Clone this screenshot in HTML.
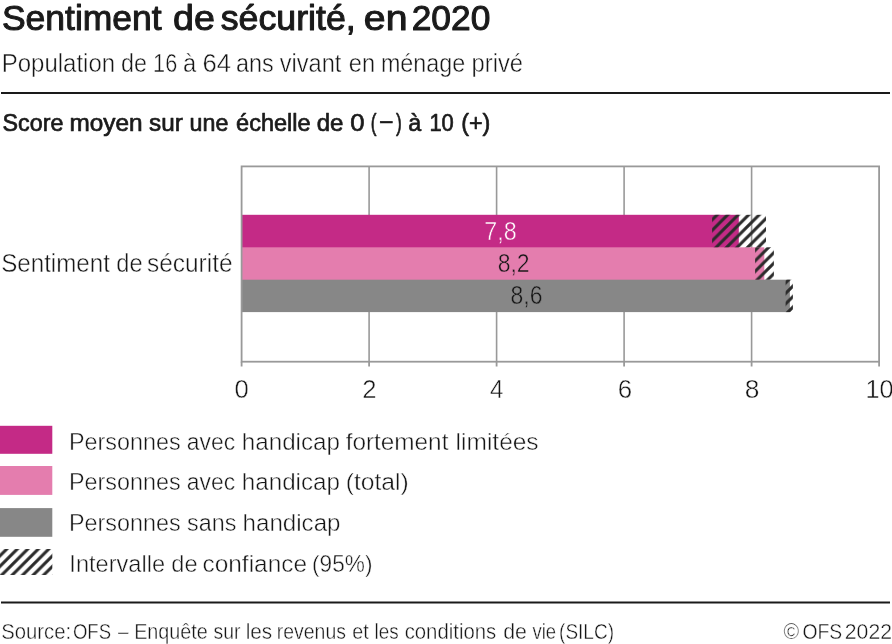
<!DOCTYPE html>
<html lang="fr">
<head>
<meta charset="utf-8">
<title>Sentiment de sécurité, en 2020</title>
<style>
html,body{margin:0;padding:0;background:#fff;}
body{width:892px;height:644px;overflow:hidden;position:relative;}
svg{position:absolute;left:0;top:0;display:block;}
text{font-family:"Liberation Sans",Arial,sans-serif;}
.b{fill:#1a1a1a;stroke:#1a1a1a;stroke-width:1px;stroke-linejoin:round;}
.b2{fill:#1a1a1a;stroke:#1a1a1a;stroke-width:0.7px;stroke-linejoin:round;}
.l{fill:#161616;stroke:#fff;stroke-width:0.45px;}
.lf{fill:#161616;stroke:#fff;stroke-width:0.4px;}
.v1{fill:#fff;stroke:#c42a86;stroke-width:0.5px;}
.v2{fill:#161616;stroke:#e47dae;stroke-width:0.5px;}
.v3{fill:#161616;stroke:#878787;stroke-width:0.5px;}
</style>
</head>
<body>
<svg width="892" height="644" viewBox="0 0 892 644">
<defs>
<pattern id="h" patternUnits="userSpaceOnUse" width="10.5" height="10.5" patternTransform="translate(2.5 5.5)">
<path d="M-3 13.5L13.5 -3M-3 3L3 -3M8.4 12.6L12.6 8.4" stroke="#2b2b2b" stroke-width="3.1" fill="none"/>
</pattern>
<pattern id="h2" patternUnits="userSpaceOnUse" width="10.5" height="10.5" patternTransform="translate(4.3 5.5)">
<path d="M-3 13.5L13.5 -3M-3 3L3 -3M8.4 12.6L12.6 8.4" stroke="#2b2b2b" stroke-width="3.1" fill="none"/>
</pattern>
</defs>
<rect width="892" height="644" fill="#fff"/>

<!-- header -->
<g id="t1">
<text class="b" x="1.9" y="30.25" font-size="34.3" textLength="159.83" lengthAdjust="spacingAndGlyphs">Sentiment</text>
<text class="b" x="173.12" y="30.25" font-size="34.3" textLength="41.85" lengthAdjust="spacingAndGlyphs">de</text>
<text class="b" x="220.74" y="30.25" font-size="34.3" textLength="134.99" lengthAdjust="spacingAndGlyphs">sécurité,</text>
<text class="b" x="363.85" y="30.25" font-size="34.3" textLength="43.67" lengthAdjust="spacingAndGlyphs">en</text>
<text class="b" x="411.73" y="30.25" font-size="34.3" textLength="78.63" lengthAdjust="spacingAndGlyphs">2020</text>
</g>
<g id="t2">
<text class="l" x="1.78" y="71.65" font-size="25.5" textLength="113.3" lengthAdjust="spacingAndGlyphs">Population</text>
<text class="l" x="121.07" y="71.65" font-size="25.5" textLength="25.91" lengthAdjust="spacingAndGlyphs">de</text>
<text class="l" x="153.1" y="71.65" font-size="25.5" textLength="24.08" lengthAdjust="spacingAndGlyphs">16</text>
<text class="l" x="183.06" y="71.65" font-size="25.5" textLength="13.17" lengthAdjust="spacingAndGlyphs">à</text>
<text class="l" x="202.47" y="71.65" font-size="25.5" textLength="28.53" lengthAdjust="spacingAndGlyphs">64</text>
<text class="l" x="236.07" y="71.65" font-size="25.5" textLength="37.73" lengthAdjust="spacingAndGlyphs">ans</text>
<text class="l" x="279.68" y="71.65" font-size="25.5" textLength="61.74" lengthAdjust="spacingAndGlyphs">vivant</text>
<text class="l" x="348.76" y="71.65" font-size="25.5" textLength="26.32" lengthAdjust="spacingAndGlyphs">en</text>
<text class="l" x="380.91" y="71.65" font-size="25.5" textLength="84.36" lengthAdjust="spacingAndGlyphs">ménage</text>
<text class="l" x="471.53" y="71.65" font-size="25.5" textLength="51.48" lengthAdjust="spacingAndGlyphs">privé</text>
</g>
<rect x="1" y="92" width="889" height="2" fill="#1a1a1a"/>
<g id="t3">
<text class="b2" x="2.6" y="130.6" font-size="24.6" textLength="60.78" lengthAdjust="spacingAndGlyphs">Score</text>
<text class="b2" x="69.44" y="130.6" font-size="24.6" textLength="73.08" lengthAdjust="spacingAndGlyphs">moyen</text>
<text class="b2" x="148.99" y="130.6" font-size="24.6" textLength="33.75" lengthAdjust="spacingAndGlyphs">sur</text>
<text class="b2" x="189.56" y="130.6" font-size="24.6" textLength="38.82" lengthAdjust="spacingAndGlyphs">une</text>
<text class="b2" x="236.06" y="130.6" font-size="24.6" textLength="74.62" lengthAdjust="spacingAndGlyphs">échelle</text>
<text class="b2" x="316.64" y="130.6" font-size="24.6" textLength="26.78" lengthAdjust="spacingAndGlyphs">de</text>
<text class="b2" x="350.35" y="130.6" font-size="24.6" textLength="14.28" lengthAdjust="spacingAndGlyphs">0</text>
<text class="b2" x="370.78" y="130.6" font-size="24.6" textLength="5.76" lengthAdjust="spacingAndGlyphs">(</text>
<text class="b2" x="395.96" y="130.6" font-size="24.6" textLength="5.76" lengthAdjust="spacingAndGlyphs">)</text>
<text class="b2" x="408.37" y="130.6" font-size="24.6" textLength="12.96" lengthAdjust="spacingAndGlyphs">à</text>
<text class="b2" x="429.38" y="130.6" font-size="24.6" textLength="24.41" lengthAdjust="spacingAndGlyphs">10</text>
<text class="b2" x="461.2" y="130.6" font-size="24.6" textLength="29.2" lengthAdjust="spacingAndGlyphs">(+)</text>
<text class="b2" x="380.35" y="128.4" font-size="24.6" textLength="12.1" lengthAdjust="spacingAndGlyphs">–</text>
</g>

<!-- chart -->
<g stroke="#999" stroke-width="1.6" fill="none">
<path d="M369.1 166.4V361.7M496.6 166.4V361.7M624.1 166.4V361.7M751.6 166.4V361.7"/>
</g>
<rect x="241.6" y="214.8" width="497.2" height="33.5" fill="#c42a86"/>
<rect x="241.6" y="247.3" width="522.7" height="33.4" fill="#e47dae"/>
<rect x="241.6" y="279.7" width="548.3" height="32.4" fill="#878787"/>
<rect x="712.1" y="214.8" width="53.9" height="32.5" fill="url(#h)"/>
<rect x="755.1" y="247.3" width="18.8" height="32.4" fill="url(#h)"/>
<rect x="785.6" y="279.7" width="7.3" height="32.4" fill="url(#h)"/>
<g stroke="#999" stroke-width="1.8" fill="none">
<rect x="241.6" y="166.4" width="637.5" height="195.3"/>
<path d="M241.6 361.7V366.5M369.1 361.7V366.5M496.6 361.7V366.5M624.1 361.7V366.5M751.6 361.7V366.5M879.1 361.7V366.5"/>
</g>
<g id="yl">
<text class="l" x="1.16" y="272.2" font-size="25.8" textLength="108.74" lengthAdjust="spacingAndGlyphs">Sentiment</text>
<text class="l" x="116.26" y="272.2" font-size="25.8" textLength="26.29" lengthAdjust="spacingAndGlyphs">de</text>
<text class="l" x="147.09" y="272.2" font-size="25.8" textLength="85.44" lengthAdjust="spacingAndGlyphs">sécurité</text>
</g>
<text class="l" x="234.55" y="398.4" font-size="26.1" textLength="14.28" lengthAdjust="spacingAndGlyphs">0</text>
<text class="l" x="362.27" y="398.4" font-size="26.1" textLength="14.27" lengthAdjust="spacingAndGlyphs">2</text>
<text class="l" x="490.02" y="398.4" font-size="26.1" textLength="13.44" lengthAdjust="spacingAndGlyphs">4</text>
<text class="l" x="617.65" y="398.4" font-size="26.1" textLength="14.41" lengthAdjust="spacingAndGlyphs">6</text>
<text class="l" x="744.72" y="398.4" font-size="26.1" textLength="14.67" lengthAdjust="spacingAndGlyphs">8</text>
<text class="l" x="865.53" y="398.4" font-size="26.1" textLength="28.09" lengthAdjust="spacingAndGlyphs">10</text>
<text class="v1" x="484.36" y="239.75" font-size="25.4" textLength="32.39" lengthAdjust="spacingAndGlyphs">7,8</text>
<text class="v2" x="497.66" y="271.95" font-size="25.4" textLength="31.94" lengthAdjust="spacingAndGlyphs">8,2</text>
<text class="v3" x="510.56" y="304.35" font-size="25.4" textLength="31.93" lengthAdjust="spacingAndGlyphs">8,6</text>

<!-- legend -->
<rect x="0" y="425.8" width="52.3" height="28" fill="#c42a86"/>
<rect x="0" y="466" width="52.3" height="28.9" fill="#e47dae"/>
<rect x="0" y="508.1" width="52.3" height="28.7" fill="#878787"/>
<rect x="0" y="549" width="52.3" height="26" fill="url(#h2)"/>
<g id="l1">
<text class="l" x="68.93" y="449.7" font-size="24.5" textLength="111.65" lengthAdjust="spacingAndGlyphs">Personnes</text>
<text class="l" x="186.79" y="449.7" font-size="24.5" textLength="48.31" lengthAdjust="spacingAndGlyphs">avec</text>
<text class="l" x="241.83" y="449.7" font-size="24.5" textLength="98.16" lengthAdjust="spacingAndGlyphs">handicap</text>
<text class="l" x="345.66" y="449.7" font-size="24.5" textLength="102.76" lengthAdjust="spacingAndGlyphs">fortement</text>
<text class="l" x="455.61" y="449.7" font-size="24.5" textLength="83.01" lengthAdjust="spacingAndGlyphs">limitées</text>
</g>
<g id="l2">
<text class="l" x="68.93" y="490.1" font-size="24.5" textLength="111.65" lengthAdjust="spacingAndGlyphs">Personnes</text>
<text class="l" x="186.79" y="490.1" font-size="24.5" textLength="48.31" lengthAdjust="spacingAndGlyphs">avec</text>
<text class="l" x="241.83" y="490.1" font-size="24.5" textLength="98.16" lengthAdjust="spacingAndGlyphs">handicap</text>
<text class="l" x="345.72" y="490.1" font-size="24.5" textLength="63.06" lengthAdjust="spacingAndGlyphs">(total)</text>
</g>
<g id="l3">
<text class="l" x="68.93" y="530.6" font-size="24.5" textLength="111.65" lengthAdjust="spacingAndGlyphs">Personnes</text>
<text class="l" x="187.12" y="530.6" font-size="24.5" textLength="49.28" lengthAdjust="spacingAndGlyphs">sans</text>
<text class="l" x="242.59" y="530.6" font-size="24.5" textLength="97.91" lengthAdjust="spacingAndGlyphs">handicap</text>
</g>
<g id="l4">
<text class="l" x="69.33" y="572.1" font-size="24.5" textLength="95.72" lengthAdjust="spacingAndGlyphs">Intervalle</text>
<text class="l" x="171.26" y="572.1" font-size="24.5" textLength="26.29" lengthAdjust="spacingAndGlyphs">de</text>
<text class="l" x="202.47" y="572.1" font-size="24.5" textLength="104.6" lengthAdjust="spacingAndGlyphs">confiance</text>
<text class="l" x="312.1" y="572.1" font-size="24.5" textLength="60.32" lengthAdjust="spacingAndGlyphs">(95%)</text>
</g>

<!-- footer -->
<rect x="1" y="601.5" width="889" height="2" fill="#1a1a1a"/>
<g id="f1">
<text class="lf" x="1.17" y="639.2" font-size="21.5" textLength="69.9" lengthAdjust="spacingAndGlyphs">Source:</text>
<text class="lf" x="72.91" y="639.2" font-size="21.5" textLength="38.14" lengthAdjust="spacingAndGlyphs">OFS</text>
<text class="lf" x="118.08" y="639.2" font-size="21.5" textLength="10.44" lengthAdjust="spacingAndGlyphs">–</text>
<text class="lf" x="134.16" y="639.2" font-size="21.5" textLength="73.64" lengthAdjust="spacingAndGlyphs">Enquête</text>
<text class="lf" x="213.56" y="639.2" font-size="21.5" textLength="26.98" lengthAdjust="spacingAndGlyphs">sur</text>
<text class="lf" x="245.69" y="639.2" font-size="21.5" textLength="26.48" lengthAdjust="spacingAndGlyphs">les</text>
<text class="lf" x="276.8" y="639.2" font-size="21.5" textLength="69.11" lengthAdjust="spacingAndGlyphs">revenus</text>
<text class="lf" x="352.25" y="639.2" font-size="21.5" textLength="16.4" lengthAdjust="spacingAndGlyphs">et</text>
<text class="lf" x="374.52" y="639.2" font-size="21.5" textLength="24.09" lengthAdjust="spacingAndGlyphs">les</text>
<text class="lf" x="404.63" y="639.2" font-size="21.5" textLength="91.63" lengthAdjust="spacingAndGlyphs">conditions</text>
<text class="lf" x="503.19" y="639.2" font-size="21.5" textLength="23.68" lengthAdjust="spacingAndGlyphs">de</text>
<text class="lf" x="532.42" y="639.2" font-size="21.5" textLength="23.61" lengthAdjust="spacingAndGlyphs">vie</text>
<text class="lf" x="559.1" y="639.2" font-size="21.5" textLength="54.9" lengthAdjust="spacingAndGlyphs">(SILC)</text>
</g>
<g id="f2">
<text class="lf" x="783.46" y="639.2" font-size="21.5" textLength="15.67" lengthAdjust="spacingAndGlyphs">©</text>
<text class="lf" x="802.47" y="639.2" font-size="21.5" textLength="39.71" lengthAdjust="spacingAndGlyphs">OFS</text>
<text class="lf" x="844.82" y="639.2" font-size="21.5" textLength="47.17" lengthAdjust="spacingAndGlyphs">2022</text>
</g>
</svg>
</body>
</html>
